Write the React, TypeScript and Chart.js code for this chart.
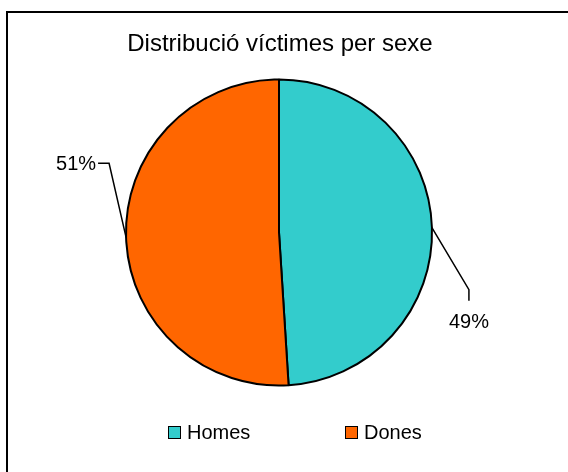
import React, { useEffect, useRef } from "react";
import { Chart, registerables } from "chart.js";

Chart.register(...registerables);

const title = "Distribució víctimes per sexe";
const categories = ["Homes", "Dones"];
const values = [49, 51];
const percentLabels = ["49%", "51%"];
const colors = ["#33CCCC", "#FF6600"];

const FONT = "'Liberation Sans', Arial, sans-serif";

const decorPlugin = {
  id: "decor",
  beforeDraw(chart: any) {
    const ctx = chart.ctx;
    ctx.save();
    ctx.fillStyle = "#ffffff";
    ctx.fillRect(0, 0, chart.width, chart.height);
    // frame
    ctx.strokeStyle = "#000";
    ctx.lineWidth = 2;
    ctx.beginPath();
    ctx.moveTo(7, chart.height + 2);
    ctx.lineTo(7, 12);
    ctx.lineTo(chart.width + 2, 12);
    ctx.stroke();
    // title
    ctx.fillStyle = "#000";
    ctx.font = `24px ${FONT}`;
    ctx.textAlign = "center";
    ctx.textBaseline = "alphabetic";
    ctx.fillText(title, 280, 51);
    ctx.restore();
  },
  afterDraw(chart: any) {
    const ctx = chart.ctx;
    const meta = chart.getDatasetMeta(0);
    ctx.save();
    ctx.strokeStyle = "#000";
    ctx.lineWidth = 1.5;
    ctx.fillStyle = "#000";
    ctx.font = `20px ${FONT}`;
    meta.data.forEach((arc: any, i: number) => {
      const p = arc.getProps(["x", "y", "startAngle", "endAngle", "outerRadius"], true);
      const mid = (p.startAngle + p.endAngle) / 2;
      const ax = p.x + Math.cos(mid) * p.outerRadius;
      const ay = p.y + Math.sin(mid) * p.outerRadius;
      ctx.beginPath();
      if (Math.cos(mid) >= 0) {
        const ex = ax + 37;
        const ey = ay + 62;
        ctx.moveTo(ax, ay);
        ctx.lineTo(ex, ey);
        ctx.lineTo(ex, ey + 11);
        ctx.stroke();
        ctx.textAlign = "center";
        ctx.textBaseline = "middle";
        ctx.fillText(percentLabels[i], ex, ey + 33);
      } else {
        const ex = ax - 17;
        const ey = ay - 74;
        ctx.moveTo(ax, ay);
        ctx.lineTo(ex, ey);
        ctx.lineTo(ex - 11, ey);
        ctx.stroke();
        ctx.textAlign = "right";
        ctx.textBaseline = "middle";
        ctx.fillText(percentLabels[i], ex - 13, ey + 1);
      }
    });
    // legend
    const legendX = [168, 345];
    categories.forEach((c, i) => {
      const x = legendX[i];
      ctx.fillStyle = colors[i];
      ctx.fillRect(x, 426, 13, 13);
      ctx.strokeStyle = "#000";
      ctx.lineWidth = 1;
      ctx.strokeRect(x + 0.5, 426.5, 12, 12);
      ctx.fillStyle = "#000";
      ctx.textAlign = "left";
      ctx.textBaseline = "middle";
      ctx.fillText(c, x + 19, 433);
    });
    ctx.restore();
  },
};

export default function App() {
  const ref = useRef<HTMLCanvasElement>(null);
  useEffect(() => {
    if (!ref.current) return;
    const chart = new Chart(ref.current, {
      type: "pie",
      data: {
        labels: categories,
        datasets: [
          {
            data: values,
            backgroundColor: colors,
            borderColor: "#000",
            borderWidth: 2,
            hoverOffset: 0,
            offset: 0,
          },
        ],
      },
      options: {
        animation: false,
        responsive: false,
        radius: 153,
        layout: { padding: { left: 120, right: 130, top: 74, bottom: 81 } },
        plugins: {
          legend: { display: false },
          title: { display: false },
          tooltip: { enabled: false },
        },
      } as any,
      plugins: [decorPlugin],
    });
    return () => chart.destroy();
  }, []);
  return (
    <div style={{ position: "absolute", left: 0, top: 0, width: 568, height: 472 }}>
      <canvas ref={ref} width={568} height={472} style={{ display: "block" }} />
    </div>
  );
}
